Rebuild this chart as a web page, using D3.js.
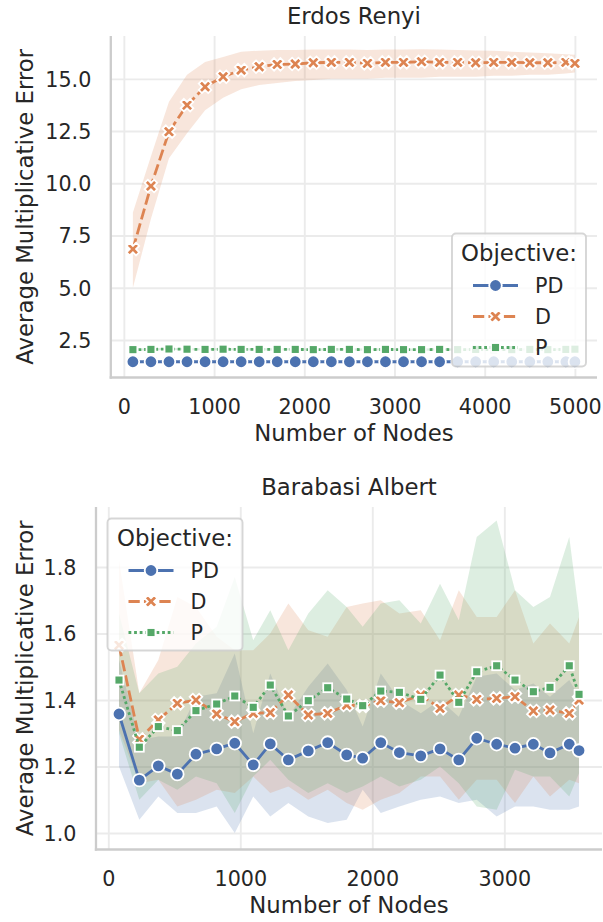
<!DOCTYPE html>
<html><head><meta charset="utf-8">
<script src="https://cdn.jsdelivr.net/npm/d3@7"></script>
<style>
body{margin:0;background:#fff}
svg text{font-family:"DejaVu Sans",sans-serif;fill:#262626}
</style>
</head><body>
<svg id="c" width="603" height="922"></svg>
<script>
// ---------------- data ----------------
const seriesNames = ["PD", "D", "P"];

// Erdos Renyi
const erNodes = [100,300,500,700,900,1100,1300,1500,1700,1900,2100,2300,2500,2700,2900,3100,3300,3500,3700,3900,4100,4300,4500,4700,4900,5000];
const erPD   = [1.46,1.46,1.46,1.46,1.46,1.46,1.46,1.46,1.46,1.46,1.46,1.46,1.46,1.46,1.46,1.46,1.46,1.46,1.46,1.46,1.46,1.46,1.46,1.46,1.46,1.46];
const erPDLo = [1.43,1.43,1.43,1.43,1.43,1.43,1.43,1.43,1.43,1.43,1.43,1.43,1.43,1.43,1.43,1.43,1.43,1.43,1.43,1.43,1.43,1.43,1.43,1.43,1.43,1.43];
const erPDHi = [1.49,1.49,1.49,1.49,1.49,1.49,1.49,1.49,1.49,1.49,1.49,1.49,1.49,1.49,1.49,1.49,1.49,1.49,1.49,1.49,1.49,1.49,1.49,1.49,1.49,1.49];
const erD   = [6.85,9.87,12.47,13.74,14.62,15.10,15.42,15.58,15.69,15.71,15.77,15.79,15.79,15.74,15.79,15.79,15.82,15.79,15.79,15.77,15.79,15.79,15.77,15.77,15.79,15.74];
const erDLo = [5.0,8.3,11.2,12.4,13.5,14.1,14.5,14.7,14.8,14.9,14.95,15.0,15.0,15.0,15.05,15.05,15.05,15.1,15.1,15.1,15.15,15.15,15.2,15.2,15.25,15.3];
const erDHi = [8.6,11.3,13.9,15.2,15.8,16.05,16.3,16.35,16.38,16.38,16.4,16.4,16.4,16.38,16.4,16.4,16.42,16.4,16.38,16.36,16.34,16.3,16.26,16.22,16.18,16.15];
const erP   = [2.04,2.05,2.07,2.06,2.05,2.06,2.05,2.05,2.05,2.05,2.04,2.05,2.05,2.04,2.05,2.04,2.04,2.05,2.04,2.05,2.04,2.04,2.05,2.04,2.05,2.06];
const erPLo = [1.99,2.00,2.02,2.01,2.00,2.01,2.00,2.00,2.00,2.00,1.99,2.00,2.00,1.99,2.00,1.99,1.99,2.00,1.99,2.00,1.99,1.99,2.00,1.99,2.00,2.01];
const erPHi = [2.09,2.10,2.12,2.11,2.10,2.11,2.10,2.10,2.10,2.10,2.09,2.10,2.10,2.09,2.10,2.09,2.09,2.10,2.09,2.10,2.09,2.09,2.10,2.09,2.10,2.11];
const erXTicks = [0,1000,2000,3000,4000,5000];
const erYTicks = [2.5,5.0,7.5,10.0,12.5,15.0];

// Barabasi Albert
const baNodes = [81,235,379,523,664,821,958,1098,1227,1364,1515,1662,1806,1927,2064,2205,2367,2513,2655,2791,2942,3081,3220,3346,3492,3566];
const baPD   = [1.358,1.159,1.202,1.177,1.237,1.253,1.270,1.205,1.268,1.220,1.247,1.272,1.235,1.225,1.272,1.242,1.232,1.253,1.220,1.285,1.267,1.255,1.267,1.241,1.267,1.248];
const baPDLo = [1.20,1.04,1.11,1.06,1.06,1.08,1.00,1.11,1.05,1.09,1.05,1.03,1.04,1.13,1.06,1.08,1.10,1.11,1.09,1.10,1.05,1.08,1.08,1.07,1.07,1.08];
const baPDHi = [1.52,1.28,1.29,1.29,1.41,1.42,1.54,1.30,1.48,1.35,1.44,1.51,1.43,1.32,1.48,1.40,1.36,1.40,1.35,1.47,1.48,1.43,1.45,1.41,1.46,1.41];
const baD   = [1.565,1.282,1.340,1.390,1.400,1.358,1.335,1.360,1.362,1.415,1.355,1.360,1.385,1.382,1.398,1.392,1.415,1.375,1.415,1.402,1.405,1.410,1.367,1.370,1.360,1.400];
const baDLo = [1.31,1.15,1.16,1.08,1.10,1.13,1.12,1.17,1.12,1.14,1.10,1.13,1.09,1.07,1.10,1.12,1.17,1.17,1.10,1.16,1.16,1.09,1.17,1.11,1.16,1.15];
const baDHi = [1.82,1.42,1.52,1.71,1.68,1.59,1.55,1.55,1.60,1.69,1.61,1.59,1.68,1.69,1.70,1.66,1.67,1.58,1.73,1.65,1.65,1.73,1.57,1.63,1.57,1.65];
const baP   = [1.460,1.258,1.320,1.308,1.368,1.388,1.412,1.378,1.445,1.352,1.398,1.437,1.403,1.383,1.427,1.423,1.402,1.475,1.393,1.485,1.503,1.460,1.425,1.438,1.503,1.417];
const baPLo = [1.30,1.10,1.16,1.13,1.17,1.15,1.06,1.17,1.22,1.16,1.12,1.15,1.12,1.14,1.17,1.14,1.16,1.20,1.15,1.08,1.07,1.19,1.17,1.17,1.11,1.18];
const baPHi = [1.66,1.42,1.48,1.50,1.57,1.62,1.77,1.58,1.67,1.55,1.66,1.73,1.68,1.62,1.69,1.70,1.63,1.75,1.64,1.89,1.94,1.73,1.68,1.71,1.89,1.66];
const baXTicks = [0,1000,2000,3000];
const baYTicks = [1.0,1.2,1.4,1.6,1.8];

// ---------------- style ----------------
const colors = ["#4c72b0", "#dd8452", "#55a868"];
const LW = 2.8;
const dashes = [null, "11.25,4.2", "2.8,2.8"];
const markerTypes = ["circle", "x", "square"];
const MS = 12.6;
const MEW = 1.8;
const TICK_FS = 20.7, LABEL_FS = 22.8;

const svg = d3.select("#c");

function drawMarker(g, type, cx, cy, color) {
  if (type === "circle") {
    g.append("circle").attr("cx", cx).attr("cy", cy).attr("r", MS / 2)
      .attr("fill", color).attr("stroke", "#fff").attr("stroke-width", MEW);
  } else if (type === "square") {
    const s = MS / Math.SQRT2;
    g.append("rect").attr("x", cx - s / 2).attr("y", cy - s / 2).attr("width", s).attr("height", s)
      .attr("fill", color).attr("stroke", "#fff").attr("stroke-width", MEW);
  } else {
    const v = [[-1,-2],[0,-1],[1,-2],[2,-1],[1,0],[2,1],[1,2],[0,1],[-1,2],[-2,1],[-1,0],[-2,-1]];
    const k = MS / 4;
    const p = "M" + v.map(q => (cx + q[0] * k) + "," + (cy + q[1] * k)).join("L") + "Z";
    g.append("path").attr("d", p).attr("fill", color).attr("stroke", "#fff").attr("stroke-width", MEW)
      .attr("stroke-linejoin", "miter");
  }
}

function drawPanel(cfg) {
  const { left, right, top, bottom, xDomain, yDomain, xTicks, yTicks, title, nodes, series, legend, yLabelX } = cfg;
  const x = d3.scaleLinear().domain(xDomain).range([left, right]);
  const y = d3.scaleLinear().domain(yDomain).range([bottom, top]);
  const g = svg.append("g");

  // grid
  const grid = g.append("g");
  grid.append("g").attr("transform", `translate(0,${bottom})`)
    .call(d3.axisBottom(x).tickValues(xTicks).tickSize(-(bottom - top)).tickFormat(""))
    .call(a => { a.select(".domain").remove(); a.selectAll("line").attr("stroke", "#ebebeb").attr("stroke-width", 1.9); });
  grid.append("g").attr("transform", `translate(${left},0)`)
    .call(d3.axisLeft(y).tickValues(yTicks).tickSize(-(right - left)).tickFormat(""))
    .call(a => { a.select(".domain").remove(); a.selectAll("line").attr("stroke", "#ebebeb").attr("stroke-width", 1.9); });

  // bands
  series.forEach((s, i) => {
    const pts = nodes.map((n, j) => ({ x: n, lo: s.lo[j], hi: s.hi[j] }));
    g.append("path").datum(pts)
      .attr("d", d3.area().x(d => x(d.x)).y0(d => y(d.lo)).y1(d => y(d.hi)))
      .attr("fill", colors[i]).attr("fill-opacity", 0.2).attr("stroke", "none");
  });

  // lines + markers
  series.forEach((s, i) => {
    const pts = nodes.map((n, j) => ({ x: n, v: s.mean[j] }));
    const ln = g.append("path").datum(pts)
      .attr("d", d3.line().x(d => x(d.x)).y(d => y(d.v)))
      .attr("fill", "none").attr("stroke", colors[i]).attr("stroke-width", LW);
    if (dashes[i]) ln.attr("stroke-dasharray", dashes[i]);
    const mg = g.append("g");
    pts.forEach(d => drawMarker(mg, markerTypes[i], x(d.x), y(d.v), colors[i]));
  });

  // spines
  g.append("line").attr("x1", left).attr("x2", left).attr("y1", top).attr("y2", bottom + 1.15)
    .attr("stroke", "#cccccc").attr("stroke-width", 2.3);
  g.append("line").attr("x1", left - 1.15).attr("x2", right).attr("y1", bottom).attr("y2", bottom)
    .attr("stroke", "#cccccc").attr("stroke-width", 2.3);

  // tick labels
  const xa = g.append("g").attr("transform", `translate(0,${bottom})`)
    .call(d3.axisBottom(x).tickValues(xTicks).tickSize(0).tickPadding(0).tickFormat(d3.format("d")));
  xa.select(".domain").remove();
  xa.selectAll("text").attr("dy", null).attr("y", 36.5).attr("font-size", TICK_FS)
    .attr("font-family", "DejaVu Sans").attr("fill", "#262626");
  const ya = g.append("g").attr("transform", `translate(${left},0)`)
    .call(d3.axisLeft(y).tickValues(yTicks).tickSize(0).tickPadding(19.5).tickFormat(d3.format(".1f")));
  ya.select(".domain").remove();
  ya.selectAll("text").attr("dy", "0.36em").attr("font-size", TICK_FS)
    .attr("font-family", "DejaVu Sans").attr("fill", "#262626");

  // labels
  const cx = (left + right) / 2;
  g.append("text").attr("x", cx).attr("y", top - 12).attr("text-anchor", "middle")
    .attr("font-size", LABEL_FS).text(title);
  g.append("text").attr("x", cx).attr("y", bottom + 63.5).attr("text-anchor", "middle")
    .attr("font-size", LABEL_FS).text("Number of Nodes");
  g.append("text").attr("transform", `translate(${yLabelX},${(top + bottom) / 2}) rotate(-90)`)
    .attr("text-anchor", "middle").attr("font-size", LABEL_FS).text("Average Multiplicative Error");

  // legend
  const L = legend;
  const lg = g.append("g");
  lg.append("rect").attr("x", L.x).attr("y", L.y).attr("width", L.w).attr("height", L.h)
    .attr("rx", 4).attr("fill", "#fff").attr("fill-opacity", 0.8)
    .attr("stroke", "#cccccc").attr("stroke-opacity", 0.8).attr("stroke-width", 1.9);
  lg.append("text").attr("x", L.x + L.w / 2).attr("y", L.y + 27).attr("text-anchor", "middle")
    .attr("font-size", LABEL_FS).text("Objective:");
  seriesNames.forEach((name, i) => {
    const ry = L.y + 52 + i * 31;
    const hx0 = L.x + 21, hx1 = L.x + 66;
    const hl = lg.append("line").attr("x1", hx0).attr("x2", hx1).attr("y1", ry).attr("y2", ry)
      .attr("stroke", colors[i]).attr("stroke-width", LW);
    if (dashes[i]) hl.attr("stroke-dasharray", dashes[i]);
    drawMarker(lg, markerTypes[i], (hx0 + hx1) / 2, ry, colors[i]);
    lg.append("text").attr("x", L.x + 83).attr("y", ry + 7.5).attr("font-size", TICK_FS).text(name);
  });
}

drawPanel({
  left: 110.8, right: 597, top: 36, bottom: 377.5,
  xDomain: [-145, 5245], yDomain: [0.706, 17.05],
  xTicks: erXTicks, yTicks: erYTicks, title: "Erdos Renyi", nodes: erNodes,
  series: [
    { mean: erPD, lo: erPDLo, hi: erPDHi },
    { mean: erD, lo: erDLo, hi: erDHi },
    { mean: erP, lo: erPLo, hi: erPHi }
  ],
  legend: { x: 452, y: 233.5, w: 134, h: 133 },
  yLabelX: 33
});

drawPanel({
  left: 96, right: 602, top: 507, bottom: 849.5,
  xDomain: [-93.2, 3740], yDomain: [0.9504, 1.9805],
  xTicks: baXTicks, yTicks: baYTicks, title: "Barabasi Albert", nodes: baNodes,
  series: [
    { mean: baPD, lo: baPDLo, hi: baPDHi },
    { mean: baD, lo: baDLo, hi: baDHi },
    { mean: baP, lo: baPLo, hi: baPHi }
  ],
  legend: { x: 107.5, y: 518.5, w: 135, h: 132 },
  yLabelX: 33
});
</script>
</body></html>
